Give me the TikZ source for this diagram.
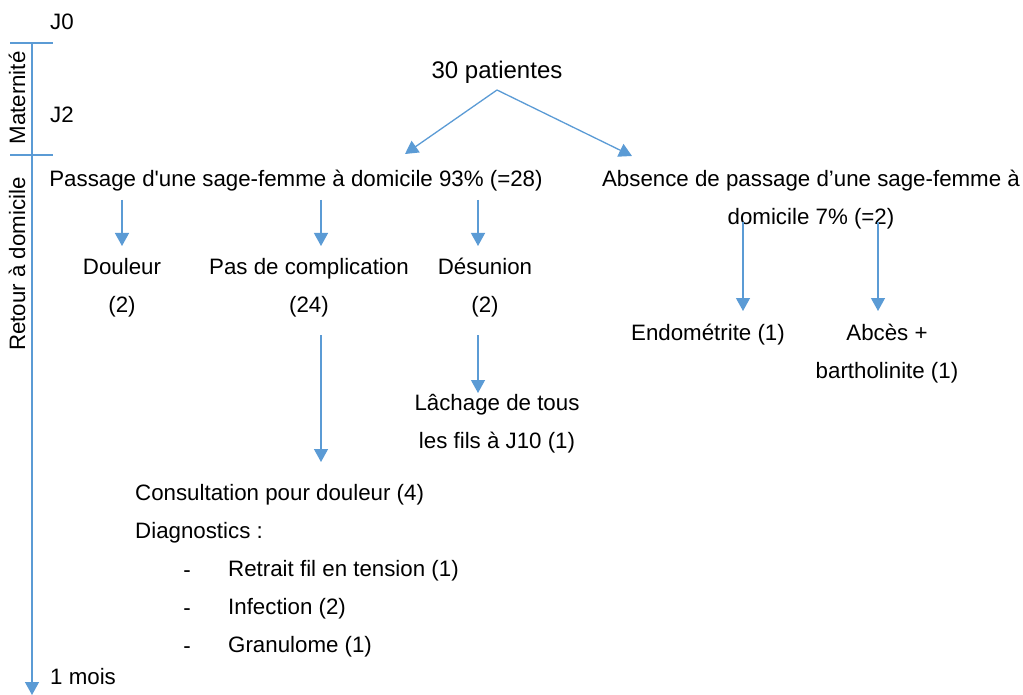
\documentclass[tikz,border=0pt]{standalone}
\usepackage{fontspec}
\setmainfont{Liberation Sans}
\usetikzlibrary{arrows.meta}
\definecolor{flowblue}{RGB}{91,155,213}
\begin{document}
\begin{tikzpicture}[x=1pt,y=-1pt,
  lbl/.style={inner sep=0pt, font=\fontsize{22.3}{38}\selectfont, align=center},
  arr/.style={draw=flowblue, line width=1.3pt, -{Triangle[width=14pt,length=13pt]}},
  axe/.style={draw=flowblue, line width=1.3pt}]
\useasboundingbox (0,0) rectangle (1023,695);
% time axis
\coordinate (axtop) at (32,43);
\coordinate (axbot) at (32,695);
\coordinate (t0l) at (10,43);
\coordinate (t0r) at (53,43);
\coordinate (t2l) at (10,155);
\coordinate (t2r) at (53,155);
\draw[arr] (axtop) -- (axbot);
\draw[axe] (t0l) -- (t0r);
\draw[axe] (t2l) -- (t2r);
\node[lbl, anchor=west] (j0) at (50,22) {J0};
\node[lbl, anchor=west] (j2) at (50,115) {J2};
\node[lbl, anchor=west] (mois) at (50,677) {1 mois};
\node[lbl, rotate=90] (mat) at (17,98) {Maternité};
\node[lbl, rotate=90] (ret) at (17,264) {Retour à domicile};
% first level
\node[lbl, font=\fontsize{24}{38}\selectfont] (pat) at (497,72) {30 patientes};
\coordinate (split) at (497,90);
\node[lbl] (passage) at (296,181) {Passage d\textquotesingle une sage-femme à domicile 93\% (=28)};
\node[lbl] (absence) at (811,200) {Absence de passage d’une sage-femme à\\domicile 7\% (=2)};
\coordinate (passin) at (405,154);
\coordinate (absin) at (632,156);
\draw[arr] (split) -- (passin);
\draw[arr] (split) -- (absin);
% passage
\coordinate (p1) at (122,200);
\coordinate (p2) at (321,200);
\coordinate (p3) at (478,200);
\node[lbl] (douleur) at (122,288) {Douleur\\(2)};
\node[lbl] (pasc) at (309,288) {Pas de complication\\(24)};
\node[lbl] (desun) at (485,288) {Désunion\\(2)};
\coordinate (d1) at (122,246);
\coordinate (d2) at (321,246);
\coordinate (d3) at (478,246);
\draw[arr] (p1) -- (d1);
\draw[arr] (p2) -- (d2);
\draw[arr] (p3) -- (d3);
\coordinate (c0) at (321,335);
\coordinate (c1) at (321,462);
\draw[arr] (c0) -- (c1);
\coordinate (l0) at (478,335);
\coordinate (l1) at (478,393);
\draw[arr] (l0) -- (l1);
\node[lbl] (lach) at (497,424) {Lâchage de tous\\les fils à J10 (1)};
\node[lbl, anchor=west] (consult) at (135,495) {Consultation pour douleur (4)};
\node[lbl, anchor=west] (diag) at (135,533) {Diagnostics :};
\foreach \y/\txt [count=\i] in {571/Retrait fil en tension (1), 609/Infection (2), 647/Granulome (1)} {
  \node[lbl, anchor=base] (tiret\i) at (187,\y+6) {-};
  \node[lbl, anchor=west] (item\i) at (228,\y) {\txt};
}
% absence
\coordinate (a1) at (743,222);
\coordinate (a2) at (878,222);
\coordinate (e1) at (743,311);
\coordinate (e2) at (878,311);
\draw[arr] (a1) -- (e1);
\draw[arr] (a2) -- (e2);
\node[lbl] (endo) at (708,335) {Endométrite (1)};
\node[lbl] (abces) at (887,354) {Abcès +\\bartholinite (1)};
\end{tikzpicture}
\end{document}
